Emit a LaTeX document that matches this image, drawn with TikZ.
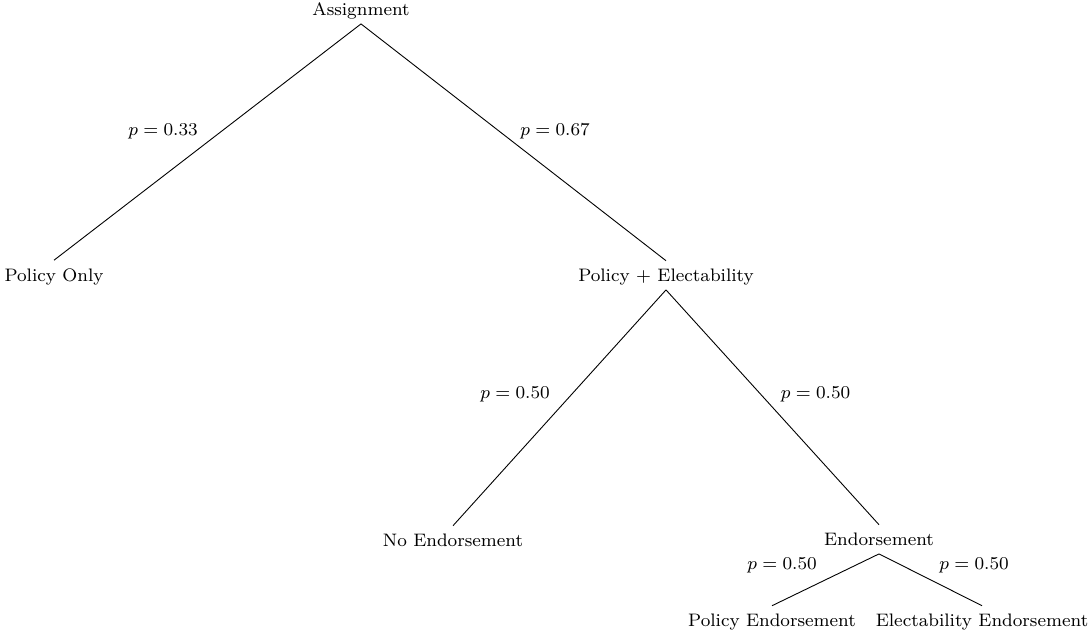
\documentclass[tikz,border=0pt]{standalone}
\usepackage{graphicx}
\newcommand\dgtext[1]{\scalebox{1.13}{\fontsize{8}{10}\selectfont #1}}
\begin{document}
\begin{tikzpicture}[x=0.5pt,y=-0.5pt,
  lab/.style={anchor=base, inner xsep=0pt, inner ysep=4pt, text height=6.2pt, text depth=0pt},
  prob/.style={anchor=base, inner sep=0pt},
  conn/.style={line width=0.45pt}]
\useasboundingbox (0,0) rectangle (1091,629);
\node[lab] (assign) at (361,15.5) {\dgtext{Assignment}};
\node[lab] (polonly) at (54,281) {\dgtext{Policy Only}};
\node[lab] (polelec) at (666,281.5) {\dgtext{Policy + Electability}};
\node[lab] (noend) at (453,546.5) {\dgtext{No Endorsement}};
\node[lab] (end) at (879,545.5) {\dgtext{Endorsement}};
\node[lab] (polend) at (772,626.5) {\dgtext{Policy Endorsement}};
\node[lab] (elecend) at (982,626.5) {\dgtext{Electability Endorsement}};
\draw[conn] (assign.south) -- (polonly.north);
\draw[conn] (assign.south) -- (polelec.north);
\draw[conn] (polelec.south) -- (noend.north);
\draw[conn] (polelec.south) -- (end.north);
\draw[conn] (end.south) -- (polend.north);
\draw[conn] (end.south) -- (elecend.north);
\node[prob] (p1) at (163,135.5) {\dgtext{$p = 0.33$}};
\node[prob] (p2) at (555,135.5) {\dgtext{$p = 0.67$}};
\node[prob] (p3) at (515,398) {\dgtext{$p = 0.50$}};
\node[prob] (p4) at (815.5,398) {\dgtext{$p = 0.50$}};
\node[prob] (p5) at (782,569.5) {\dgtext{$p = 0.50$}};
\node[prob] (p6) at (974,569.5) {\dgtext{$p = 0.50$}};
\end{tikzpicture}
\end{document}
